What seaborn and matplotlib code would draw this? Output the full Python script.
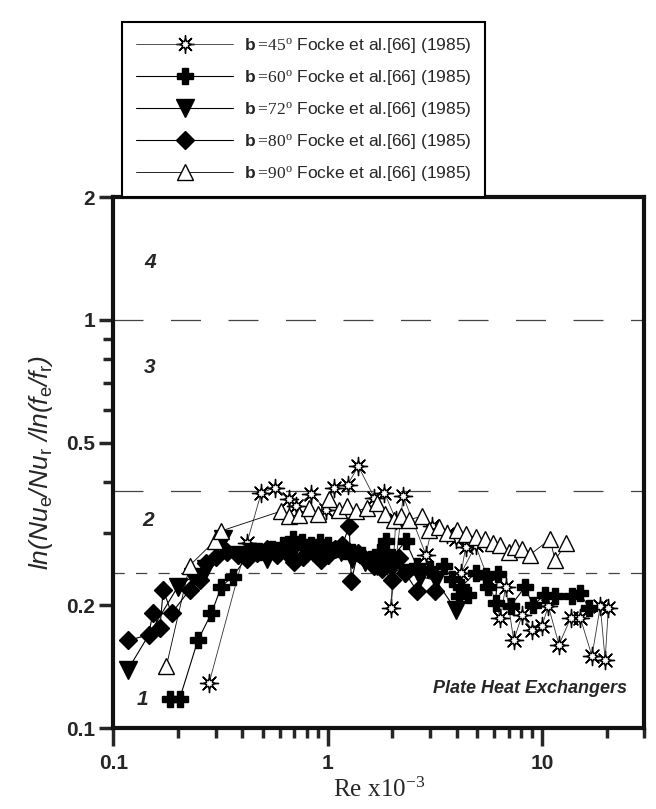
import numpy as np
import pandas as pd
import seaborn as sns
import matplotlib
matplotlib.use("Agg")
import matplotlib.pyplot as plt
from matplotlib.ticker import FixedLocator, NullFormatter, FixedFormatter
from matplotlib.lines import Line2D
from matplotlib.legend_handler import HandlerTuple

# ---- data: performance ratio vs Re x 10^-3 for several chevron angles ----
re_b45 = [0.28, 0.42, 0.49, 0.57, 0.66, 0.71, 0.84, 0.98, 1.07, 1.24, 1.39, 1.65,
          1.84, 2.08, 1.97, 2.25, 2.87, 3.08, 3.61, 3.95, 4.40, 4.20, 4.90, 5.6,
          6.4, 6.76, 7.38, 8.07, 8.98, 10.0, 10.7, 12.0, 13.6, 15.1, 17.1, 18.7,
          19.7, 20.4]
r_b45 = [0.129, 0.284, 0.377, 0.388, 0.363, 0.350, 0.374, 0.343, 0.388, 0.395,
         0.438, 0.367, 0.377, 0.324, 0.197, 0.370, 0.266, 0.313, 0.298, 0.290,
         0.277, 0.240, 0.280, 0.232, 0.186, 0.222, 0.164, 0.189, 0.174, 0.178,
         0.199, 0.160, 0.186, 0.186, 0.150, 0.199, 0.147, 0.197]

re_b60 = [0.184, 0.204, 0.248, 0.287, 0.319, 0.36, 0.42, 0.48, 0.55, 0.62, 0.69,
          0.76, 0.84, 0.92, 1.0, 1.1, 1.2, 1.3, 1.45, 1.6, 1.75, 1.87, 2.0, 2.31,
          2.6, 3.0, 3.5, 3.8, 4.1, 4.5, 4.2, 4.9, 5.5, 5.6, 6.2, 6.07, 7.13, 8.3,
          9.1, 10.3, 11.5, 13.8, 15.0, 16.6]
r_b60 = [0.118, 0.118, 0.164, 0.191, 0.222, 0.235, 0.262, 0.270, 0.275, 0.280,
         0.290, 0.285, 0.280, 0.285, 0.280, 0.275, 0.272, 0.270, 0.265, 0.260,
         0.270, 0.287, 0.262, 0.287, 0.250, 0.245, 0.249, 0.232, 0.210, 0.212,
         0.222, 0.240, 0.236, 0.222, 0.238, 0.202, 0.199, 0.221, 0.200, 0.212,
         0.210, 0.210, 0.214, 0.197]

re_b72 = [0.117, 0.20, 0.235, 0.27, 0.325, 0.38, 0.45, 0.52, 0.60, 0.70, 0.80,
          0.90, 1.0, 1.15, 1.3, 1.5, 1.7, 2.0, 2.3, 2.7, 3.2, 3.95]
r_b72 = [0.139, 0.222, 0.235, 0.245, 0.290, 0.265, 0.270, 0.260, 0.270, 0.275,
         0.268, 0.272, 0.265, 0.270, 0.260, 0.255, 0.250, 0.245, 0.240, 0.235,
         0.230, 0.195]

re_b80 = [0.117, 0.146, 0.153, 0.165, 0.171, 0.187, 0.227, 0.253, 0.272, 0.30,
          0.34, 0.38, 0.42, 0.47, 0.52, 0.58, 0.64, 0.70, 0.77, 0.85, 0.93, 1.0,
          1.08, 1.17, 1.26, 1.29, 1.38, 1.5, 1.65, 1.8, 2.0, 2.15, 2.3, 2.62, 3.18]
r_b80 = [0.164, 0.169, 0.191, 0.176, 0.218, 0.191, 0.218, 0.231, 0.254, 0.262,
         0.270, 0.265, 0.260, 0.268, 0.275, 0.265, 0.270, 0.255, 0.262, 0.270,
         0.258, 0.265, 0.275, 0.280, 0.313, 0.229, 0.268, 0.260, 0.250, 0.245,
         0.231, 0.261, 0.240, 0.216, 0.216]

re_b90 = [0.177, 0.227, 0.297, 0.319, 0.607, 0.66, 0.737, 0.82, 0.90, 1.01, 1.13,
          1.23, 1.35, 1.53, 1.70, 1.85, 2.04, 2.20, 2.39, 2.76, 2.97, 3.3, 3.6,
          4.0, 4.4, 4.9, 5.4, 5.9, 6.4, 7.0, 7.5, 8.07, 8.8, 10.9, 11.5, 13.0]
r_b90 = [0.142, 0.250, 0.287, 0.304, 0.340, 0.330, 0.333, 0.345, 0.335, 0.363,
         0.343, 0.350, 0.340, 0.346, 0.355, 0.335, 0.324, 0.330, 0.324, 0.330,
         0.306, 0.310, 0.300, 0.305, 0.298, 0.293, 0.290, 0.284, 0.280, 0.270,
         0.278, 0.274, 0.266, 0.290, 0.258, 0.284]

angles = ["45", "60", "72", "80", "90"]
zone_lines = [1.0, 0.38, 0.24]

# ---- style ----
sns.set_style("white")
plt.rcParams["font.family"] = ["Liberation Sans", "DejaVu Sans"]
plt.rcParams["mathtext.fontset"] = "custom"
plt.rcParams["mathtext.rm"] = "Liberation Sans:italic"
plt.rcParams["mathtext.it"] = "Liberation Sans:italic"
plt.rcParams["mathtext.bf"] = "Liberation Sans:bold"
plt.rcParams["mathtext.sf"] = "Liberation Sans"
plt.rcParams["mathtext.tt"] = "Liberation Serif"

fig = plt.figure(figsize=(6.56, 8.09), dpi=100)
ax = fig.add_axes([113.3 / 656, 1 - 728 / 809, 531 / 656, 531 / 809])

series = [
    (re_b45, r_b45, (8, 1, 0), "white", 8.5, 0.6, "#333333"),
    (re_b60, r_b60, "P", "black", 12, 0.8, "black"),
    (re_b72, r_b72, "v", "black", 13, 0.8, "black"),
    (re_b80, r_b80, "D", "black", 9.5, 0.8, "black"),
    (re_b90, r_b90, "^", "white", 11.5, 0.6, "black"),
]

handles, labels = [], []
for ang, (xs, ys, mk, fc, ms, lw, lc) in zip(angles, series):
    df = pd.DataFrame({"Re": xs, "ratio": ys})
    if ang == "45":
        # long spikes of the burst marker, drawn beneath the white star core
        sns.scatterplot(data=df, x="Re", y="ratio", ax=ax, marker=(8, 2, 0),
                        s=170, color="black", linewidth=1.0, legend=False,
                        zorder=2.5)
    sns.lineplot(data=df, x="Re", y="ratio", ax=ax, sort=False, estimator=None,
                 color=lc, lw=lw, marker=mk, markersize=ms,
                 markerfacecolor=fc, markeredgecolor="black",
                 markeredgewidth=1.0, zorder=3)
    h = Line2D([], [], color=lc, lw=lw, marker=mk, markersize=ms,
               markerfacecolor=fc, markeredgecolor="black", markeredgewidth=1.0)
    if ang == "45":
        h2 = Line2D([], [], lw=0, marker=(8, 2, 0), markersize=13,
                    markeredgecolor="black", markeredgewidth=1.0)
        h = (h2, h)
    handles.append(h)
    labels.append(r"$\mathbf{b}\,\mathtt{\!=\!" + ang + r"^{o}}$ Focke et al.[66] (1985)")

# zone boundaries
ax.axhline(zone_lines[0], color="#444444", lw=0.9, dashes=(24, 22), zorder=0)
ax.axhline(zone_lines[1], color="#444444", lw=0.9, dashes=(24, 22), zorder=0)
ax.axhline(zone_lines[2], color="#444444", lw=0.9, dashes=(9, 9), zorder=0)

ax.set_xscale("log")
ax.set_yscale("log")
ax.set_xlim(0.1, 30)
ax.set_ylim(0.1, 2)

ax.xaxis.set_major_locator(FixedLocator([0.1, 1, 10]))
ax.xaxis.set_major_formatter(FixedFormatter(["0.1", "1", "10"]))
ax.xaxis.set_minor_locator(FixedLocator([0.2, 0.3, 0.4, 0.5, 0.6, 0.7, 0.8, 0.9,
                                         2, 3, 4, 5, 6, 7, 8, 9, 20, 30]))
ax.xaxis.set_minor_formatter(NullFormatter())
ax.yaxis.set_major_locator(FixedLocator([0.1, 0.2, 0.5, 1, 2]))
ax.yaxis.set_major_formatter(FixedFormatter(["0.1", "0.2", "0.5", "1", "2"]))
ax.yaxis.set_minor_locator(FixedLocator([0.3, 0.4, 0.6, 0.7, 0.8, 0.9]))
ax.yaxis.set_minor_formatter(NullFormatter())

for s in ax.spines.values():
    s.set_linewidth(3)
    s.set_color("#111111")

ax.tick_params(axis="x", which="major", direction="out", length=13, width=2.5,
               labelsize=15, pad=6, bottom=True)
ax.tick_params(axis="x", which="minor", direction="out", length=7, width=2.5,
               bottom=True)
ax.tick_params(axis="y", which="major", direction="out", length=10, width=2.5,
               labelsize=15, pad=3, left=True)
ax.tick_params(axis="y", which="minor", direction="out", length=7, width=2.5,
               left=True)
for t in ax.get_xticklabels() + ax.get_yticklabels():
    t.set_fontweight("bold")

ax.set_xlabel(r"$\mathtt{Re\ x10^{-3}}$", fontsize=18, labelpad=3)
ax.set_ylabel(r"$ln(Nu_{\mathsf{e}}/Nu_{\mathsf{r}}\ /ln(f_{\mathsf{e}}/f_{\mathsf{r}})$",
              fontsize=19, labelpad=8)

# zone numbers
for txt, (xf, yf) in zip(["4", "3", "2", "1"],
                         [(0.069, 0.876), (0.069, 0.678), (0.065, 0.39), (0.054, 0.053)]):
    ax.text(xf, yf, txt, transform=ax.transAxes, fontsize=15, fontweight="bold",
            fontstyle="italic", ha="center", va="center")

ax.text(0.967, 0.075, "Plate Heat Exchangers", transform=ax.transAxes,
        fontsize=13, fontweight="bold", fontstyle="italic", ha="right", va="center")

leg = ax.legend(handles, labels, loc="lower left", bbox_to_anchor=(0.0164, 1.0),
                borderaxespad=0, frameon=True, fancybox=False, framealpha=1,
                edgecolor="black", fontsize=12.5, handlelength=5.6,
                labelspacing=0.75, handletextpad=0.6, borderpad=0.8,
                handler_map={tuple: HandlerTuple(ndivide=1, pad=0)})
leg.get_frame().set_linewidth(1.5)

fig.savefig("out.png", dpi=100)
